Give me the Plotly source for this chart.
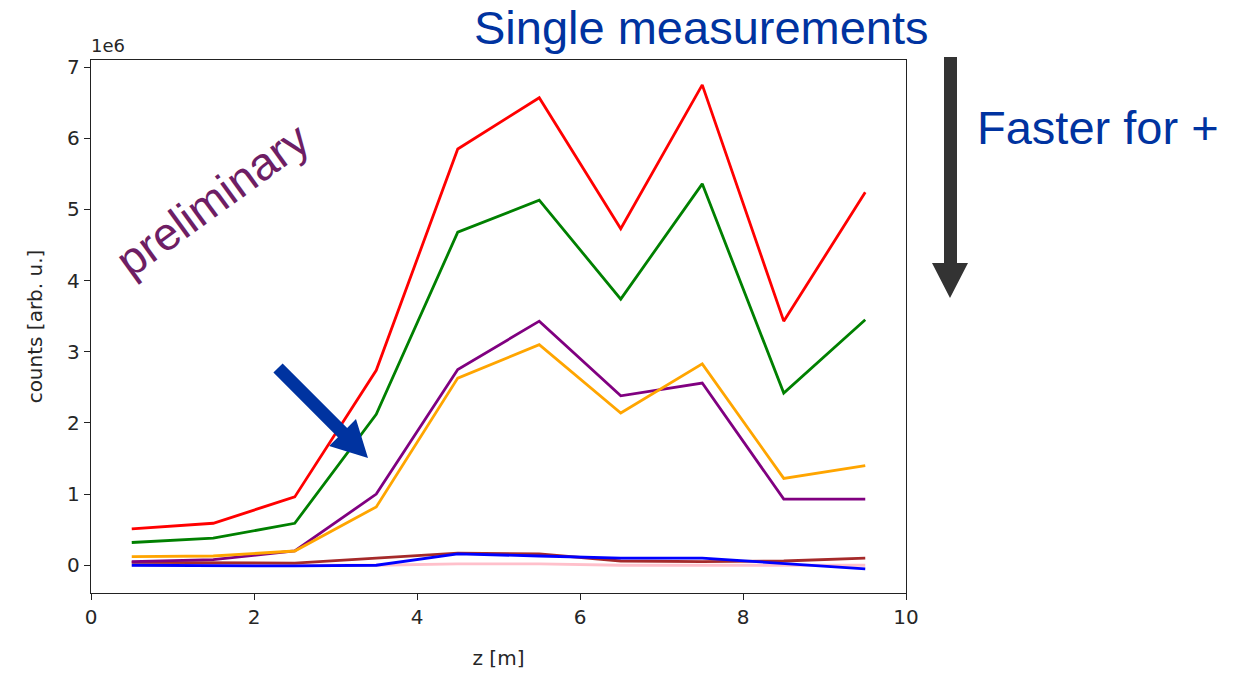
import plotly.graph_objects as go
import math

# ---- data ----
z = [0.5, 1.5, 2.5, 3.5, 4.5, 5.5, 6.5, 7.5, 8.5, 9.5]
red = [0.51e6, 0.59e6, 0.96e6, 2.74e6, 5.85e6, 6.57e6, 4.73e6, 6.75e6, 3.43e6, 5.24e6]
green = [0.32e6, 0.38e6, 0.59e6, 2.12e6, 4.68e6, 5.13e6, 3.74e6, 5.36e6, 2.42e6, 3.45e6]
purple = [0.05e6, 0.08e6, 0.20e6, 1.00e6, 2.75e6, 3.43e6, 2.38e6, 2.56e6, 0.93e6, 0.93e6]
orange = [0.12e6, 0.13e6, 0.20e6, 0.82e6, 2.63e6, 3.10e6, 2.14e6, 2.83e6, 1.22e6, 1.40e6]
brown = [0.04e6, 0.03e6, 0.03e6, 0.10e6, 0.17e6, 0.16e6, 0.06e6, 0.05e6, 0.06e6, 0.10e6]
blue = [0.0, -0.01e6, -0.01e6, 0.0, 0.16e6, 0.13e6, 0.10e6, 0.10e6, 0.03e6, -0.05e6]
pink = [0.0, 0.0, 0.0, 0.0, 0.02e6, 0.02e6, 0.0, 0.0, 0.0, 0.0]

series = [
    ("pink", pink, "#ffc0cb"),
    ("brown", brown, "#a52a2a"),
    ("red", red, "#ff0000"),
    ("green", green, "#008000"),
    ("purple", purple, "#800080"),
    ("orange", orange, "#ffa500"),
    ("blue", blue, "#0000ff"),
]

W, H = 1253, 676
L, R, T, B = 91, 906, 60, 593

fig = go.Figure()
for name, vals, col in series:
    fig.add_trace(go.Scatter(x=z, y=vals, mode="lines", name=name,
                             line=dict(color=col, width=2.8), showlegend=False))

axis_common = dict(showline=True, linecolor="#222", linewidth=1.3, mirror=True,
                   ticks="outside", ticklen=6, tickcolor="#222", tickwidth=1.2,
                   showgrid=False, zeroline=False,
                   tickfont=dict(family="DejaVu Sans", size=20, color="#262626"))

fig.update_xaxes(range=[0, 10], tickvals=[0, 2, 4, 6, 8, 10],
                 title=dict(text="z [m]", font=dict(family="DejaVu Sans", size=20, color="#262626"),
                            standoff=22),
                 **axis_common)
fig.update_yaxes(range=[-0.39e6, 7.1e6], tickvals=[0, 1e6, 2e6, 3e6, 4e6, 5e6, 6e6, 7e6],
                 ticktext=["0", "1", "2", "3", "4", "5", "6", "7"],
                 title=dict(text="counts [arb. u.]", font=dict(family="DejaVu Sans", size=20, color="#262626"),
                            standoff=19),
                 **axis_common)


def px(x, y):
    return ((x - L) / (R - L), (B - y) / (B - T))


def poly(points):
    s = ""
    for i, (x, y) in enumerate(points):
        X, Y = px(x, y)
        s += ("M" if i == 0 else "L") + f"{X:.5f},{Y:.5f} "
    return s + "Z"


# black vertical arrow
black_arrow = [(944, 57), (957, 57), (957, 263), (968, 263), (950, 298), (932, 263), (944, 263)]
fig.add_shape(type="path", xref="paper", yref="paper", path=poly(black_arrow),
              fillcolor="#333333", line=dict(width=0))

# blue diagonal arrow (tail -> tip)
tx, ty = 278, 368
hx, hy = 368, 458
dx, dy = hx - tx, hy - ty
ln = math.hypot(dx, dy)
ux, uy = dx / ln, dy / ln
nx, ny = -uy, ux
sw, hw, hl = 6.5, 19, 36
bx, by = hx - ux * hl, hy - uy * hl
blue_arrow = [
    (tx + nx * sw, ty + ny * sw),
    (bx + nx * sw, by + ny * sw),
    (bx + nx * hw, by + ny * hw),
    (hx, hy),
    (bx - nx * hw, by - ny * hw),
    (bx - nx * sw, by - ny * sw),
    (tx - nx * sw, ty - ny * sw),
]
fig.add_shape(type="path", xref="paper", yref="paper", path=poly(blue_arrow),
              fillcolor="#0033a0", line=dict(width=0), layer="above")


def ann(text, x, y, size, color, angle=0, family="Liberation Sans, Arial", yanchor="middle"):
    X, Y = px(x, y)
    fig.add_annotation(text=text, xref="paper", yref="paper", x=X, y=Y,
                       xanchor="center", yanchor=yanchor, showarrow=False, borderpad=0,
                       textangle=angle, font=dict(family=family, size=size, color=color))


ann("Single measurements", 701, 0, 47, "#0033a0", yanchor="top")
ann("Faster for +", 1098, 127, 47, "#0033a0")
ann("preliminary", 212, 200, 46, "#6e1e64", angle=-36)
ann("1e6", 108, 46, 18, "#262626", family="DejaVu Sans")

fig.update_layout(width=W, height=H,
                  margin=dict(l=L, r=W - R, t=T, b=H - B),
                  paper_bgcolor="white", plot_bgcolor="white")

fig.write_html("out.html")
